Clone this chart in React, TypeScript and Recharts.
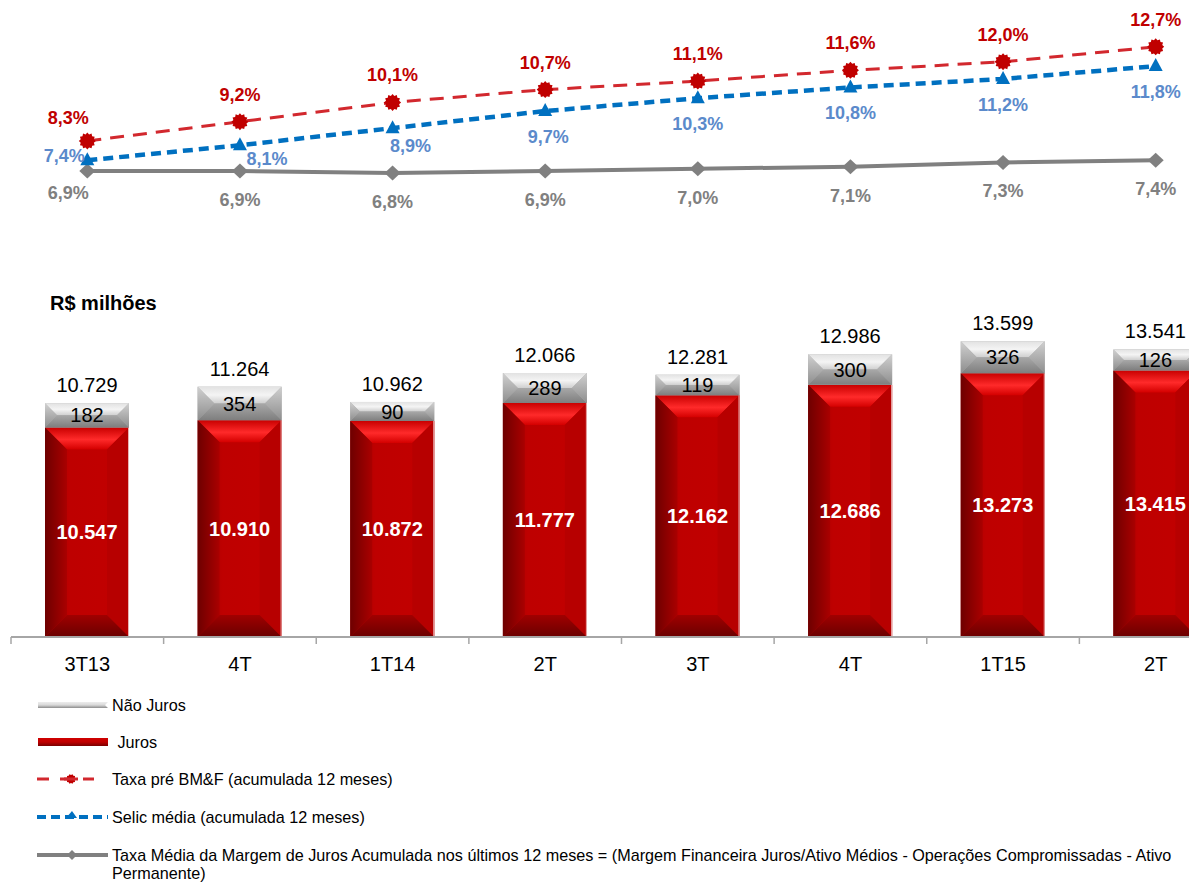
import React from 'react';
import { ComposedChart, Bar, Line, XAxis, YAxis, LabelList } from 'recharts';

// ---------- data ----------
const categories = ['3T13', '4T', '1T14', '2T', '3T', '4T', '1T15', '2T'];
const juros = [10547, 10910, 10872, 11777, 12162, 12686, 13273, 13415];
const naoJuros = [182, 354, 90, 289, 119, 300, 326, 126];
const totals = [10729, 11264, 10962, 12066, 12281, 12986, 13599, 13541];
const taxaPre = [8.3, 9.2, 10.1, 10.7, 11.1, 11.6, 12.0, 12.7];
const selic = [7.4, 8.1, 8.9, 9.7, 10.3, 10.8, 11.2, 11.8];
const margem = [6.9, 6.9, 6.8, 6.9, 7.0, 7.1, 7.3, 7.4];

const data = categories.map((c, i) => ({
  cat: c,
  juros: juros[i],
  naoJuros: naoJuros[i],
  total: totals[i],
  taxaPre: taxaPre[i],
  selic: selic[i],
  margem: margem[i],
}));

// ---------- styles ----------
const FONT = '"Liberation Sans", Arial, Helvetica, sans-serif';
const CHART_W = 1232;
const M_LEFT = 11;
const M_RIGHT = 0;
const HALF_BAND = (CHART_W - M_LEFT - M_RIGHT) / categories.length / 2;

const RED_LINE = '#D2282E';
const RED_DARK = '#C00000';
const BLUE = '#0070C0';
const BLUE_LABEL = '#5B8ACB';
const GRAY = '#808080';

const fmtThousands = (v: number) => String(v).replace(/\B(?=(\d{3})+(?!\d))/g, '.');
const fmtPct = (v: number) => v.toFixed(1).replace('.', ',') + '%';

// ---------- markers ----------
const starPoints = (cx: number, cy: number, ro: number, ri: number, n: number) => {
  const pts: string[] = [];
  for (let k = 0; k < n * 2; k++) {
    const r = k % 2 === 0 ? ro : ri;
    const a = (Math.PI * k) / n;
    pts.push(`${cx + r * Math.cos(a)},${cy + r * Math.sin(a)}`);
  }
  return pts.join(' ');
};

const StarDot = (props: any) => {
  const { cx, cy } = props;
  if (cx == null || cy == null) return null;
  return <polygon points={starPoints(cx, cy, 8.5, 6.8, 12)} fill={RED_DARK} />;
};
const TriDot = (props: any) => {
  const { cx, cy } = props;
  if (cx == null || cy == null) return null;
  return <polygon points={`${cx},${cy - 8} ${cx + 7},${cy + 5} ${cx - 7},${cy + 5}`} fill={BLUE} />;
};
const DiamondDot = (props: any) => {
  const { cx, cy } = props;
  if (cx == null || cy == null) return null;
  return <polygon points={`${cx},${cy - 7.5} ${cx + 8},${cy} ${cx},${cy + 7.5} ${cx - 8},${cy}`} fill={GRAY} />;
};

// ---------- line labels ----------
const makeLineLabel = (color: string, kind: 'pre' | 'selic' | 'margem') => (props: any) => {
  const { x, y, value, index } = props;
  if (x == null || y == null) return null;
  let dx = 0;
  let dy = 0;
  if (kind === 'pre') {
    dx = index === 0 ? -19 : 0;
    dy = index === 0 ? -23 : -27;
  } else if (kind === 'selic') {
    if (index === 0) { dx = -23; dy = -4; }
    else if (index === 1) { dx = 27; dy = 14; }
    else if (index === 2) { dx = 18; dy = 18; }
    else { dx = index === 3 ? 3 : 0; dy = 26; }
  } else {
    if (index === 0) { dx = -19; dy = 22; }
    else { dy = 29; }
  }
  return (
    <text
      x={x + dx}
      y={y + dy}
      textAnchor="middle"
      dominantBaseline="central"
      fill={color}
      fontSize={18}
      fontWeight="bold"
      fontFamily={FONT}
    >
      {fmtPct(Number(value))}
    </text>
  );
};

// ---------- bar shapes ----------
const RedBarShape = (props: any) => {
  const { x, y, width: w, height: h } = props;
  if (w == null || h == null || h <= 0) return null;
  const b = Math.min(22, h / 2, w / 2);
  return (
    <g>
      <rect x={x} y={y} width={w} height={h} fill="url(#redFace)" />
      <polygon points={`${x},${y} ${x + w},${y} ${x + w - b},${y + b} ${x + b},${y + b}`} fill="url(#redTop)" />
      <polygon points={`${x},${y} ${x + b},${y + b} ${x + b},${y + h - b} ${x},${y + h}`} fill="url(#redLeft)" />
      <polygon points={`${x + w},${y} ${x + w - b},${y + b} ${x + w - b},${y + h - b} ${x + w},${y + h}`} fill="#B70000" />
      <polygon points={`${x},${y + h} ${x + b},${y + h - b} ${x + w - b},${y + h - b} ${x + w},${y + h}`} fill="url(#redBottom)" />
      <line x1={x + w - 0.5} y1={y} x2={x + w - 0.5} y2={y + h} stroke="#E9B3B3" strokeWidth={1} />
    </g>
  );
};

const GrayCapShape = (props: any) => {
  const { x, y, width: w, height: h } = props;
  if (w == null || h == null || h <= 0) return null;
  const b = h / 2;
  return (
    <g>
      <rect x={x} y={y} width={w} height={h} fill="#A9A9A9" />
      <polygon points={`${x},${y} ${x + w},${y} ${x + w - b},${y + b} ${x + b},${y + b}`} fill="url(#grayTop)" />
      <polygon points={`${x},${y + h} ${x + b},${y + b} ${x + w - b},${y + b} ${x + w},${y + h}`} fill="url(#grayBottom)" />
      <polygon points={`${x},${y} ${x + b},${y + b} ${x},${y + h}`} fill="url(#graySide)" />
      <polygon points={`${x + w},${y} ${x + w - b},${y + b} ${x + w},${y + h}`} fill="url(#graySide)" />
    </g>
  );
};

const Defs = () => (
  <defs>
    <linearGradient id="redFace" x1="0" y1="0" x2="1" y2="0">
      <stop offset="0" stopColor="#A00000" />
      <stop offset="0.3" stopColor="#BE0000" />
      <stop offset="1" stopColor="#C20000" />
    </linearGradient>
    <linearGradient id="redTop" x1="0" y1="0" x2="0" y2="1">
      <stop offset="0" stopColor="#C80000" />
      <stop offset="0.55" stopColor="#FF2A2A" />
      <stop offset="1" stopColor="#D40000" />
    </linearGradient>
    <linearGradient id="redLeft" x1="0" y1="0" x2="1" y2="0">
      <stop offset="0" stopColor="#6E0000" />
      <stop offset="1" stopColor="#AA0000" />
    </linearGradient>
    <linearGradient id="redBottom" x1="0" y1="0" x2="0" y2="1">
      <stop offset="0" stopColor="#A00000" />
      <stop offset="1" stopColor="#6A0000" />
    </linearGradient>
    <linearGradient id="grayTop" x1="0" y1="0" x2="0" y2="1">
      <stop offset="0" stopColor="#E2E2E2" />
      <stop offset="0.5" stopColor="#F4F4F4" />
      <stop offset="1" stopColor="#CFCFCF" />
    </linearGradient>
    <linearGradient id="grayBottom" x1="0" y1="0" x2="0" y2="1">
      <stop offset="0" stopColor="#A8A8A8" />
      <stop offset="1" stopColor="#7E7E7E" />
    </linearGradient>
    <linearGradient id="graySide" x1="0" y1="0" x2="0" y2="1">
      <stop offset="0" stopColor="#D0D0D0" />
      <stop offset="1" stopColor="#8E8E8E" />
    </linearGradient>
  </defs>
);

// ---------- axis tick ----------
const CategoryTick = (props: any) => {
  const { x, y, payload } = props;
  return (
    <g>
      <line x1={x - HALF_BAND} y1={y - 7} x2={x - HALF_BAND} y2={y} stroke="#A6A6A6" strokeWidth={1.5} />
      <text x={x} y={y + 13} dy="0.71em" textAnchor="middle" fill="#000" fontSize={20} fontFamily={FONT}>
        {categories[payload.value] ?? payload.value}
      </text>
    </g>
  );
};

// ---------- legend ----------
const LegendIconBox = ({ children }: { children: React.ReactNode }) => (
  <svg width={80} height={20} style={{ position: 'absolute', left: 30, top: -10, overflow: 'visible' }}>
    {children}
  </svg>
);

const legendRow = (top: number, left: number, icon: React.ReactNode, text: React.ReactNode) => (
  <div style={{ position: 'absolute', top, left: 0, width: 1189, height: 0 }}>
    <LegendIconBox>{icon}</LegendIconBox>
    <div
      style={{
        position: 'absolute',
        left,
        top: -9,
        fontSize: 16.2,
        lineHeight: '18px',
        color: '#000',
        fontFamily: FONT,
        whiteSpace: 'nowrap',
      }}
    >
      {text}
    </div>
  </div>
);

export default function App() {
  return (
    <div
      style={{
        position: 'absolute',
        left: 0,
        top: 0,
        width: 1189,
        height: 885,
        overflow: 'hidden',
        background: '#fff',
        fontFamily: FONT,
      }}
    >
      {/* Lines chart */}
      <div style={{ position: 'absolute', left: 0, top: 0 }}>
        <ComposedChart
          width={CHART_W}
          height={240}
          data={data}
          margin={{ top: 19, right: M_RIGHT, left: M_LEFT, bottom: 7 }}
        >
          <XAxis hide scale="band" />
          <YAxis hide domain={[4, 14]} />
          <Line
            dataKey="margem"
            stroke={GRAY}
            strokeWidth={4}
            dot={<DiamondDot />}
            activeDot={false}
            isAnimationActive={false}
          >
            <LabelList dataKey="margem" content={makeLineLabel(GRAY, 'margem')} />
          </Line>
          <Line
            dataKey="selic"
            stroke={BLUE}
            strokeWidth={4.5}
            strokeDasharray="10 6"
            dot={<TriDot />}
            activeDot={false}
            isAnimationActive={false}
          >
            <LabelList dataKey="selic" content={makeLineLabel(BLUE_LABEL, 'selic')} />
          </Line>
          <Line
            dataKey="taxaPre"
            stroke={RED_LINE}
            strokeWidth={3}
            strokeDasharray="14 9"
            dot={<StarDot />}
            activeDot={false}
            isAnimationActive={false}
          >
            <LabelList dataKey="taxaPre" content={makeLineLabel(RED_DARK, 'pre')} />
          </Line>
        </ComposedChart>
      </div>

      {/* Bars chart */}
      <div style={{ position: 'absolute', left: 0, top: 300 }}>
        <ComposedChart
          width={CHART_W}
          height={380}
          data={data}
          margin={{ top: 19, right: M_RIGHT, left: M_LEFT, bottom: 0 }}
        >
          <Defs />
          <XAxis
            height={43}
            tickLine={false}
            tickSize={7}
            tickMargin={0}
            axisLine={{ stroke: '#A6A6A6', strokeWidth: 2 }}
            tick={<CategoryTick />}
            interval={0}
          />
          <YAxis hide domain={[0, 16000]} />
          <Bar
            dataKey="juros"
            stackId="a"
            barSize={84}
            shape={<RedBarShape />}
            isAnimationActive={false}
          >
            <LabelList
              dataKey="juros"
              position="center"
              formatter={(v: any) => fmtThousands(Number(v))}
              fill="#FFFFFF"
              fontSize={20}
              fontWeight="bold"
              fontFamily={FONT}
            />
          </Bar>
          <Bar
            dataKey="naoJuros"
            stackId="a"
            barSize={84}
            minPointSize={(_v: any, i: number) => 14 + naoJuros[i] * 0.055}
            shape={<GrayCapShape />}
            isAnimationActive={false}
          >
            <LabelList
              dataKey="naoJuros"
              position="center"
              formatter={(v: any) => fmtThousands(Number(v))}
              fill="#000000"
              fontSize={20}
              fontFamily={FONT}
            />
            <LabelList
              dataKey="total"
              position="top"
              offset={11}
              formatter={(v: any) => fmtThousands(Number(v))}
              fill="#000000"
              fontSize={20}
              fontFamily={FONT}
            />
          </Bar>
        </ComposedChart>
      </div>

      <div
        style={{
          position: 'absolute',
          left: 50,
          top: 292,
          fontSize: 20,
          fontWeight: 'bold',
          color: '#000',
          fontFamily: FONT,
          lineHeight: '22px',
        }}
      >
        R$ milhões
      </div>

      {/* Legend */}
      {legendRow(
        705,
        112,
        <g>
          <defs>
            <linearGradient id="lgGray" x1="0" y1="0" x2="0" y2="1">
              <stop offset="0" stopColor="#EDEDED" />
              <stop offset="0.5" stopColor="#D9D9D9" />
              <stop offset="1" stopColor="#8C8C8C" />
            </linearGradient>
            <linearGradient id="lgRed" x1="0" y1="0" x2="0" y2="1">
              <stop offset="0" stopColor="#D00000" />
              <stop offset="0.5" stopColor="#C00000" />
              <stop offset="1" stopColor="#7A0000" />
            </linearGradient>
          </defs>
          <polygon points="8,7 78,7 75,10 78,13 8,13" fill="url(#lgGray)" />
        </g>,
        'Não Juros'
      )}
      {legendRow(
        742,
        113,
        <rect x={8} y={6} width={70} height={8} fill="url(#lgRed)" />,
        '\u00a0Juros'
      )}
      {legendRow(
        779,
        112,
        <g>
          <line x1={7} y1={10} x2={64} y2={10} stroke={RED_LINE} strokeWidth={3} strokeDasharray="12 11" />
          <polygon points={starPoints(41, 10, 5, 4, 10)} fill={RED_DARK} />
          <line x1={34} y1={10} x2={48} y2={10} stroke={RED_LINE} strokeWidth={3} />
        </g>,
        'Taxa pré BM&F (acumulada 12 meses)'
      )}
      {legendRow(
        817,
        112,
        <g>
          <line x1={7} y1={10} x2={78} y2={10} stroke={BLUE} strokeWidth={4} strokeDasharray="9 5" />
          <polygon points="42,4 47,11 36,11" fill={BLUE} />
        </g>,
        'Selic média (acumulada 12 meses)'
      )}
      {legendRow(
        855,
        112,
        <g>
          <line x1={7} y1={10} x2={78} y2={10} stroke={GRAY} strokeWidth={4} />
          <polygon points="42,5 47,10 42,15 37,10" fill={GRAY} />
        </g>,
        <span>
          Taxa Média da Margem de Juros Acumulada nos últimos 12 meses = (Margem Financeira Juros/Ativo Médios - Operações Compromissadas - Ativo
          <br />
          Permanente)
        </span>
      )}
    </div>
  );
}
